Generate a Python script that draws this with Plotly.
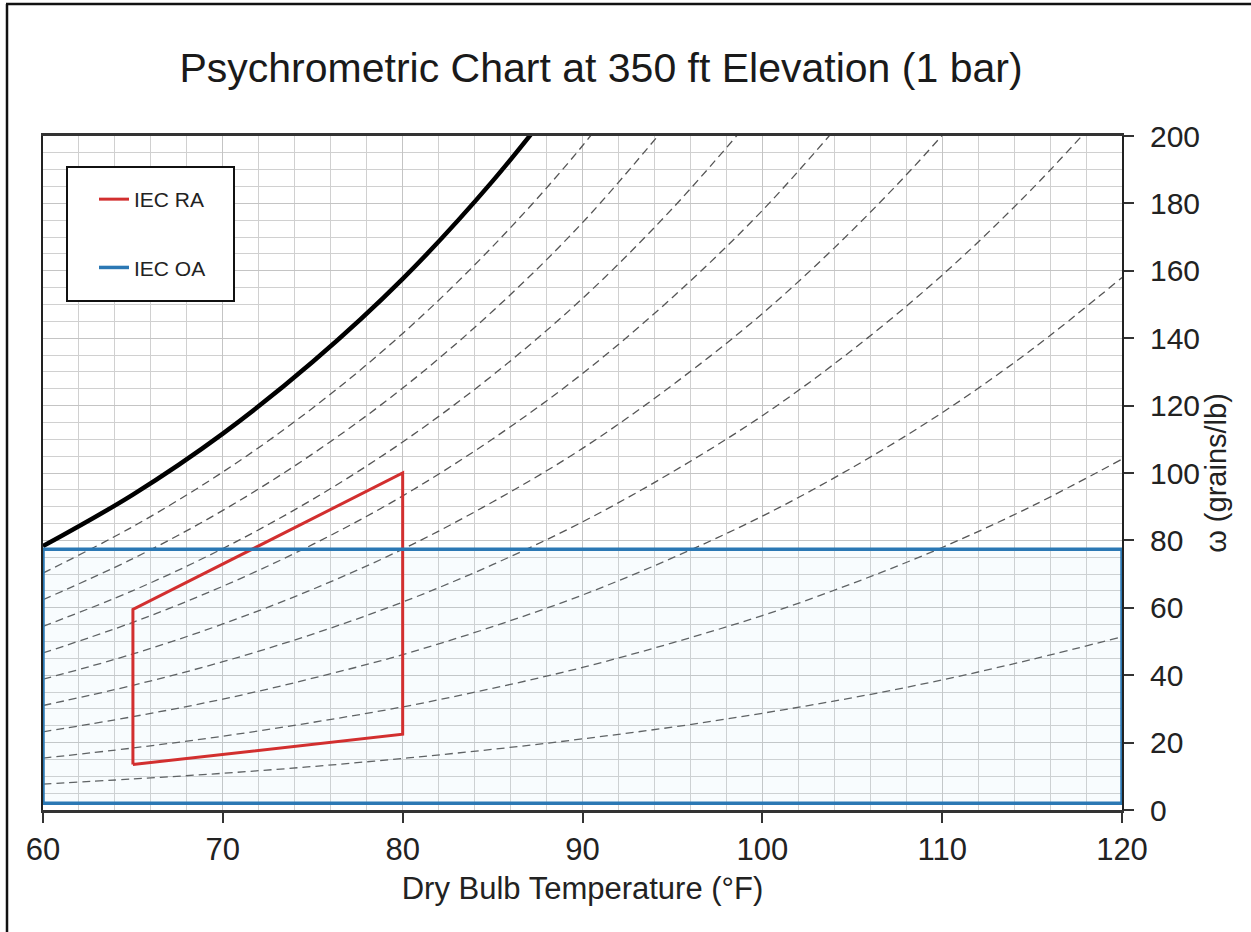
import plotly.graph_objects as go

# ---- data ----
dry_bulb_f = [60, 65, 70, 75, 80, 85, 90, 95, 100, 105, 110, 115, 120]

w_sat = [78.3, 93.6, 111.7, 133.0, 157.6, 186.6, 220.1, None, None, None, None, None, None]
w_rh90 = [70.3, 84.1, 100.3, 119.3, 141.4, 167.2, 197.1, 232.3, None, None, None, None, None]
w_rh80 = [62.4, 74.6, 88.9, 105.7, 125.2, 148.0, 174.3, 205.2, None, None, None, None, None]
w_rh70 = [54.5, 65.1, 77.6, 92.2, 109.2, 129.0, 151.8, 178.5, 209.0, None, None, None, None]
w_rh60 = [46.6, 55.7, 66.4, 78.8, 93.2, 110.1, 129.5, 152.1, 177.9, 208.0, None, None, None]
w_rh50 = [38.8, 46.3, 55.2, 65.5, 77.4, 91.4, 107.3, 126.1, 147.3, 172.0, 200.2, 232.8, None]
w_rh40 = [31.0, 37.0, 44.0, 52.2, 61.7, 72.8, 85.5, 100.3, 117.0, 136.5, 158.7, 184.3, 213.2]
w_rh30 = [23.2, 27.7, 32.9, 39.1, 46.1, 54.4, 63.8, 74.8, 87.2, 101.6, 117.9, 136.7, 158.0]
w_rh20 = [15.4, 18.4, 21.9, 26.0, 30.6, 36.1, 42.3, 49.6, 57.7, 67.2, 77.9, 90.2, 104.1]
w_rh10 = [7.7, 9.2, 10.9, 12.9, 15.3, 18.0, 21.1, 24.6, 28.7, 33.3, 38.6, 44.7, 51.4]

ra_temp = [65, 65, 80, 80, 65]
ra_w = [13.5, 59.5, 100, 22.5, 13.5]

oa_temp = [60, 60, 120, 120, 60]
oa_w = [2, 77.4, 77.4, 2, 2]

x_ticks = [60, 70, 80, 90, 100, 110, 120]
y_ticks = [0, 20, 40, 60, 80, 100, 120, 140, 160, 180, 200]

# ---- figure ----
FONT = "Liberation Sans, Arial, sans-serif"
fig = go.Figure()

rh_series = [w_rh10, w_rh20, w_rh30, w_rh40, w_rh50, w_rh60, w_rh70, w_rh80, w_rh90]
for ws in rh_series:
    fig.add_trace(go.Scatter(
        x=dry_bulb_f, y=ws, mode="lines", line_shape="spline",
        line=dict(color="#555555", width=1.3, dash="8px,5px"),
        showlegend=False, hoverinfo="skip"))

fig.add_trace(go.Scatter(
    x=dry_bulb_f, y=w_sat, mode="lines", line_shape="spline",
    line=dict(color="black", width=4.5), showlegend=False, hoverinfo="skip"))

# faint fill of the OA zone
fig.add_trace(go.Scatter(
    x=oa_temp, y=oa_w, mode="lines", fill="toself",
    fillcolor="rgba(190,230,250,0.10)", line=dict(width=0),
    showlegend=False, hoverinfo="skip"))

fig.add_trace(go.Scatter(
    x=ra_temp, y=ra_w, mode="lines", name="IEC RA",
    line=dict(color="#d22f2f", width=3), legendgroup="ra"))

fig.add_trace(go.Scatter(
    x=oa_temp, y=oa_w, mode="lines", name="IEC OA",
    line=dict(color="#2b78b4", width=3.5), legendgroup="oa"))

# plot area pixels: x 43..1122, y 136..810
L, R, T, B = 43, 1251 - 1122, 136, 932 - 810
PW, PH = 1251 - L - R, 932 - T - B

def px_x(p):
    return (p - L) / PW

def px_y(p):
    return (932 - B - p) / PH

shapes = [
    # legend box
    dict(type="rect", xref="paper", yref="paper",
         x0=px_x(67), x1=px_x(234), y0=px_y(301), y1=px_y(167),
         line=dict(color="#111", width=2), fillcolor="white", layer="above"),
    # outer figure border (left and top)
    dict(type="line", xref="paper", yref="paper",
         x0=px_x(7), x1=px_x(7), y0=px_y(940), y1=px_y(4),
         line=dict(color="#111", width=2.5)),
    dict(type="line", xref="paper", yref="paper",
         x0=px_x(6), x1=px_x(1260), y0=px_y(4), y1=px_y(4),
         line=dict(color="#111", width=2.5)),
]

fig.update_layout(
    width=1251, height=932,
    margin=dict(l=L, r=R, t=T, b=B, autoexpand=False),
    paper_bgcolor="white", plot_bgcolor="white",
    font=dict(family=FONT, color="#222"),
    title=dict(text="Psychrometric Chart at 350 ft Elevation (1 bar)",
               font=dict(family=FONT, size=41, color="#1a1a1a"),
               x=601 / 1251, xanchor="center", xref="container",
               y=1 - 68 / 932, yanchor="middle", yref="container"),
    xaxis=dict(
        range=[60, 120], tickvals=x_ticks, ticks="outside", ticklen=10,
        tickwidth=1.5, tickcolor="#333",
        tickfont=dict(family=FONT, size=31, color="#222"),
        title=dict(text="Dry Bulb Temperature (°F)", standoff=12,
                   font=dict(family=FONT, size=31, color="#222")),
        showgrid=True, gridcolor="#c4c4c4", gridwidth=1,
        minor=dict(dtick=2, showgrid=True, gridcolor="#d0d0d0", gridwidth=1),
        showline=True, linecolor="#333", linewidth=2.5, mirror=True,
        zeroline=False, automargin=False),
    yaxis=dict(
        range=[0, 200], tickvals=y_ticks, side="right", ticks="outside",
        ticklen=10, tickwidth=1.5, tickcolor="#333", ticklabelstandoff=10,
        tickfont=dict(family=FONT, size=30, color="#222"),
        title=dict(text="ω (grains/lb)", standoff=2,
                   font=dict(family=FONT, size=29, color="#222")),
        showgrid=True, gridcolor="#c4c4c4", gridwidth=1,
        minor=dict(dtick=5, showgrid=True, gridcolor="#d0d0d0", gridwidth=1),
        showline=True, linecolor="#222", linewidth=2, mirror=True,
        zeroline=False, automargin=False),
    legend=dict(
        x=px_x(94), y=px_y(179), xanchor="left", yanchor="top",
        bgcolor="rgba(0,0,0,0)", borderwidth=0,
        font=dict(family=FONT, size=21, color="#222"),
        tracegroupgap=38, traceorder="grouped"),
    shapes=shapes,
)

fig.write_html("out.html")
